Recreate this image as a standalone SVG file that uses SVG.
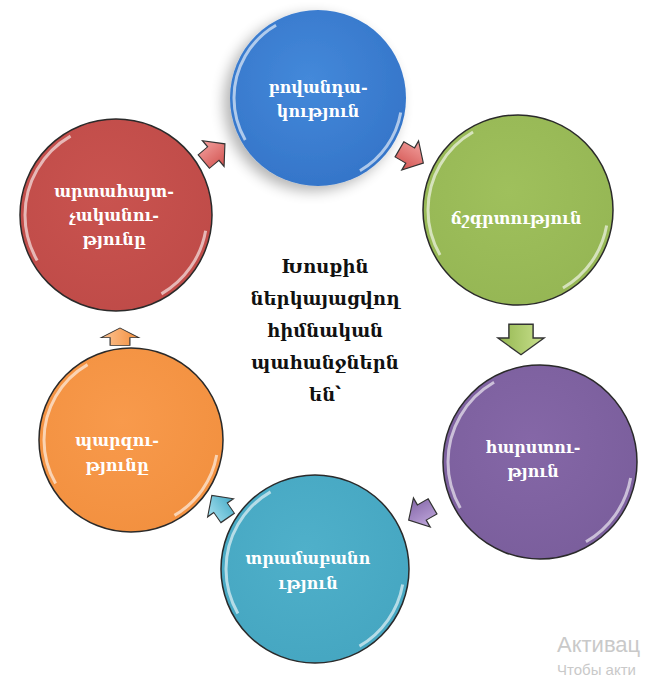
<svg xmlns="http://www.w3.org/2000/svg" width="651" height="680" viewBox="0 0 651 680">
<defs>
<style>
.ctext{font-family:"DejaVu Serif","Liberation Serif",serif;font-size:16px;font-weight:bold;fill:#ffffff;text-anchor:middle}
.mtext{font-family:"DejaVu Serif","Liberation Serif",serif;font-size:18px;font-weight:bold;fill:#111111;text-anchor:middle}
.rim{fill:none;stroke:#ffffff;stroke-opacity:0.6;stroke-width:3;stroke-dasharray:50 90 90 130;stroke-dashoffset:-10}
.edge{stroke:#2a2a2a;stroke-width:1.5}
.arr{stroke:#333333;stroke-width:1.3;stroke-linejoin:miter}
.wm{font-family:"Liberation Sans","DejaVu Sans",sans-serif;fill:#c9c9c9}
</style>
<radialGradient id="gBlue" cx="0.45" cy="0.4" r="0.65"><stop offset="0" stop-color="#4489da"/><stop offset="1" stop-color="#3474c8"/></radialGradient>
<radialGradient id="gRed" cx="0.45" cy="0.4" r="0.65"><stop offset="0" stop-color="#c9534f"/><stop offset="1" stop-color="#bf4b48"/></radialGradient>
<radialGradient id="gGreen" cx="0.45" cy="0.4" r="0.65"><stop offset="0" stop-color="#9fc05c"/><stop offset="1" stop-color="#95b654"/></radialGradient>
<radialGradient id="gPurple" cx="0.45" cy="0.4" r="0.65"><stop offset="0" stop-color="#8567a7"/><stop offset="1" stop-color="#7a5e9c"/></radialGradient>
<radialGradient id="gCyan" cx="0.45" cy="0.4" r="0.65"><stop offset="0" stop-color="#4fb0ca"/><stop offset="1" stop-color="#45a6c1"/></radialGradient>
<radialGradient id="gOrange" cx="0.45" cy="0.4" r="0.65"><stop offset="0" stop-color="#f89a4c"/><stop offset="1" stop-color="#f2903f"/></radialGradient>
<linearGradient id="aRed" x1="0" y1="0" x2="0" y2="1"><stop offset="0" stop-color="#f2a09e"/><stop offset="1" stop-color="#d2524f"/></linearGradient>
<linearGradient id="aGreen" x1="0" y1="0" x2="0" y2="1"><stop offset="0" stop-color="#c9e08e"/><stop offset="1" stop-color="#94b750"/></linearGradient>
<linearGradient id="aPurple" x1="0" y1="0" x2="0" y2="1"><stop offset="0" stop-color="#c0a8dc"/><stop offset="1" stop-color="#8466a8"/></linearGradient>
<linearGradient id="aCyan" x1="0" y1="0" x2="0" y2="1"><stop offset="0" stop-color="#a5e0ef"/><stop offset="1" stop-color="#45aac6"/></linearGradient>
<linearGradient id="aOrange" x1="0" y1="0" x2="0" y2="1"><stop offset="0" stop-color="#fcc494"/><stop offset="1" stop-color="#f28e3c"/></linearGradient>
<filter id="shadow" x="-30%" y="-30%" width="160%" height="160%"><feGaussianBlur in="SourceAlpha" stdDeviation="7"/><feOffset dx="-6" dy="5"/><feComponentTransfer><feFuncA type="linear" slope="0.3"/></feComponentTransfer><feMerge><feMergeNode/><feMergeNode in="SourceGraphic"/></feMerge></filter>
<path id="arrowShape" d="M-14,-11 L-1,-11 L-1,-21 L15,0 L-1,21 L-1,11 L-14,11 Z"/>
</defs>
<rect width="651" height="680" fill="#ffffff"/>

<g id="connectors">
<use href="#arrowShape" class="arr" fill="url(#aRed)" transform="translate(214,153) rotate(-40) scale(0.95,0.8)"/>
<use href="#arrowShape" class="arr" fill="url(#aRed)" transform="translate(411,156) rotate(30) scale(0.95,0.8)"/>
<use href="#arrowShape" class="arr" fill="url(#aGreen)" transform="translate(521,339) rotate(90) scale(1.05,1.1)"/>
<use href="#arrowShape" class="arr" fill="url(#aPurple)" transform="translate(421,513) rotate(150) scale(0.95,0.8)"/>
<use href="#arrowShape" class="arr" fill="url(#aCyan)" transform="translate(220,507) rotate(-125) scale(0.95,0.75)"/>
<use href="#arrowShape" class="arr" fill="url(#aOrange)" transform="translate(120,337) rotate(-90) scale(0.6,0.9)"/>
</g>

<g id="node-blue">
<circle cx="318" cy="98" r="88" fill="url(#gBlue)" filter="url(#shadow)"/>
<circle cx="318" cy="98" r="84" class="rim" pathLength="360"/>
<text class="ctext" x="318" y="93">բովանդա-</text>
<text class="ctext" x="318" y="117">կություն</text>
</g>

<g id="node-red">
<circle cx="116" cy="215" r="96" fill="url(#gRed)" class="edge"/>
<circle cx="116" cy="215" r="91" class="rim" pathLength="360"/>
<text class="ctext" x="114" y="197">արտահայտ-</text>
<text class="ctext" x="114" y="221">չականու-</text>
<text class="ctext" x="114" y="245">թյունը</text>
</g>

<g id="node-green">
<circle cx="518" cy="210" r="95" fill="url(#gGreen)" class="edge"/>
<circle cx="518" cy="210" r="90" class="rim" pathLength="360"/>
<text class="ctext" x="516" y="224">ճշգրտություն</text>
</g>

<g id="node-purple">
<circle cx="540" cy="462" r="97" fill="url(#gPurple)" class="edge"/>
<circle cx="540" cy="462" r="92" class="rim" pathLength="360"/>
<text class="ctext" x="533" y="453">հարստու-</text>
<text class="ctext" x="533" y="477">թյուն</text>
</g>

<g id="node-cyan">
<circle cx="315" cy="569" r="94" fill="url(#gCyan)" class="edge"/>
<circle cx="315" cy="569" r="89" class="rim" pathLength="360"/>
<text class="ctext" x="308" y="564">տրամաբանո</text>
<text class="ctext" x="308" y="589">ւթյուն</text>
</g>

<g id="node-orange">
<circle cx="131" cy="440" r="92" fill="url(#gOrange)" class="edge"/>
<circle cx="131" cy="440" r="87" class="rim" pathLength="360"/>
<text class="ctext" x="117" y="446">պարզու-</text>
<text class="ctext" x="117" y="471">թյունը</text>
</g>

<g id="node-center">
<text class="mtext" x="325" y="273">Խոսքին</text>
<text class="mtext" x="325" y="305">ներկայացվող</text>
<text class="mtext" x="325" y="337">հիմնական</text>
<text class="mtext" x="325" y="369">պահանջներն</text>
<text class="mtext" x="325" y="401">են՝</text>
</g>

<g id="watermark">
<text class="wm" x="557" y="652" font-size="22">Активац</text>
<text class="wm" x="557" y="675" font-size="15" fill="#dddddd">Чтобы акти</text>
</g>
</svg>
